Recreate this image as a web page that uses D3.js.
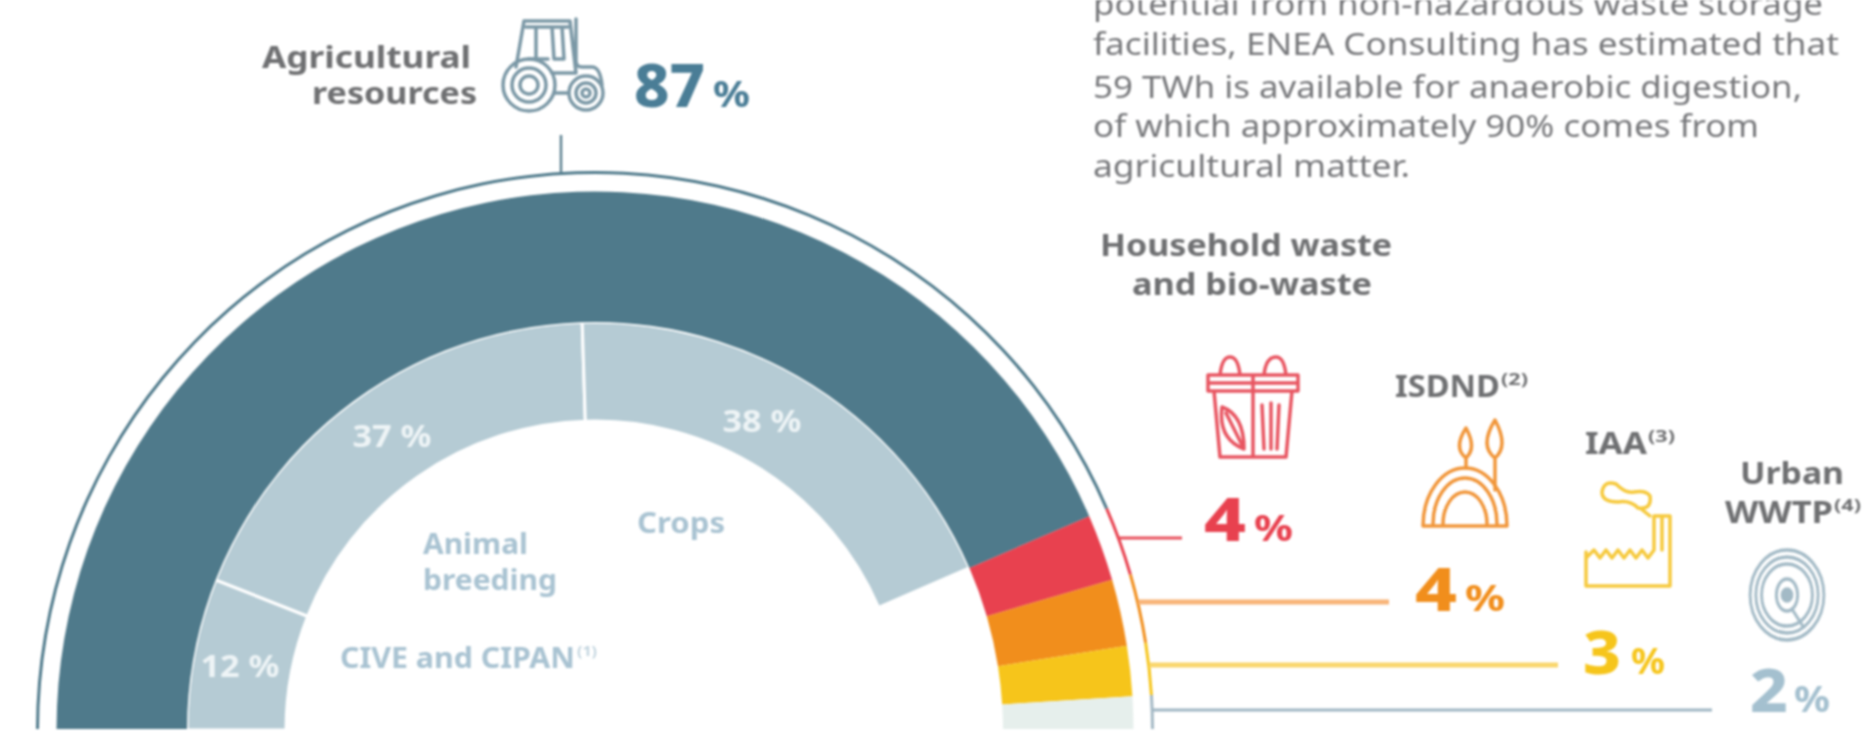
<!DOCTYPE html>
<html><head><meta charset="utf-8">
<script src="https://cdn.jsdelivr.net/npm/d3@7/dist/d3.min.js"></script>
<style>
html,body{margin:0;padding:0;background:#fff;overflow:hidden}
svg{display:block;filter:blur(.9px)}
text{font-family:"Noto Sans","Open Sans",sans-serif}
</style></head><body><div id="chart"></div>
<script>
// ---- data ----
const mainCategories = ["Agricultural resources","Household waste and bio-waste","ISDND","IAA","Urban WWTP"];
const mainValues = [87,4,4,3,2];
const mainColors = ["#4f7a8b","#e8414f","#f18e1c","#f6c51b","#e6efec"];
const ringColors = ["#4f7a8b","#e8414f","#f18e1c","#f6c51b","#a3b8c4"];
const leaderColors = [null,"#e8505c","#f8b377","#f9d66b","#9fb6c3"];
const valueColors = ["#4a7d96","#e8414f","#f18e1c","#f6c51b","#a4c0cf"];
const subCategories = ["CIVE and CIPAN","Animal breeding","Crops"];
const subValues = [12,37,38];
const paragraph = ["potential from non-hazardous waste storage","facilities, ENEA Consulting has estimated that","59 TWh is available for anaerobic digestion,","of which approximately 90% comes from","agricultural matter."];

// ---- layout ----
const W=1869,H=733,cx=595,cy=730;
const svg=d3.select("#chart").append("svg").attr("width",W).attr("height",H);
svg.append("defs").append("clipPath").attr("id","c").append("rect").attr("width",W).attr("height",729);
const angle=d3.scaleLinear().domain([0,100]).range([-Math.PI/2,Math.PI/2]);
function stack(vals){let s=0;return vals.map(v=>{const a=s;s+=v;return{start:a,end:s,value:v}})}
const g=svg.append("g").attr("clip-path","url(#c)").append("g").attr("transform",`translate(${cx},${cy})`);
const arcFor=(r0,r1)=>d3.arc().innerRadius(r0).outerRadius(r1).startAngle(d=>angle(d.start)).endAngle(d=>angle(d.end));

g.selectAll("path.sub").data(stack(subValues)).join("path").attr("class","sub")
 .attr("d",arcFor(309,408)).attr("fill","#b5cbd4").attr("stroke","#fff").attr("stroke-width",3);
g.selectAll("path.main").data(stack(mainValues)).join("path").attr("class","main")
 .attr("d",arcFor(408,538.5)).attr("fill",(d,i)=>mainColors[i]);
g.selectAll("path.ring").data(stack(mainValues)).join("path").attr("class","ring")
 .attr("d",arcFor(556,559)).attr("fill",(d,i)=>ringColors[i]);

// leaders
const ringX=y=>cx+Math.sqrt(558*558-(y-cy)*(y-cy));
svg.append("line").attr("x1",561).attr("x2",561).attr("y1",135).attr("y2",172).attr("stroke","#5f8392").attr("stroke-width",2.5);
[[538,1182,3],[602,1389,5],[665,1558,5],[710,1712,3]].forEach((l,i)=>{
 svg.append("line").attr("x1",ringX(l[0])).attr("x2",l[1]).attr("y1",l[0]).attr("y2",l[0])
  .attr("stroke",leaderColors[i+1]).attr("stroke-width",l[2]);
});

// text helper
function T(x,y,s,o={}){
 const t=svg.append("text").attr("x",x).attr("y",y).text(s)
  .attr("font-size",o.size||30).attr("font-weight",o.w||400).attr("fill",o.fill||"#6f7072")
  .attr("text-anchor",o.a||"start");
 if(o.len)t.attr("textLength",o.len).attr("lengthAdjust","spacingAndGlyphs");
 return t;
}
function Sup(x,y,s,fill){return T(x,y,s,{size:16,w:700,fill:fill||"#6f7072",len:27})}

// paragraph
const paraY=[15,55,98,137,177],paraLen=[730,746,709,666,317];
paragraph.forEach((p,i)=>T(1093,paraY[i],p,{size:31,fill:"#77787b",len:paraLen[i]}));

// category labels
const B={w:700,size:31,fill:"#6f7072"};
T(471,68,"Agricultural",{...B,a:"end",len:209});
T(477,104,"resources",{...B,a:"end",len:165});
T(1100,256,"Household waste",{...B,len:292});
T(1132,295,"and bio-waste",{...B,len:240});
T(1395,397,mainCategories[2],{...B,len:105}); Sup(1501,385,"(2)");
T(1585,454,mainCategories[3],{...B,len:62}); Sup(1648,442,"(3)");
T(1792,484,"Urban",{...B,a:"middle",len:104});
T(1725,523,"WWTP",{...B,len:108}); Sup(1834,511,"(4)");

// big values
const bigX=[[634,713,71,37],[1204,1254,42,39],[1415,1465,42,40],[1583,1631,38,34],[1750,1794,38,36]];
const bigY=[107,541,611,674,712];
mainValues.forEach((v,i)=>{
 T(bigX[i][0],bigY[i],String(v),{size:60,w:800,fill:valueColors[i],len:bigX[i][2]});
 T(bigX[i][1],bigY[i],"%",{size:36,w:700,fill:valueColors[i],len:bigX[i][3]});
});

// sub labels
const SL={w:700,size:28,fill:"#a9c3d2"};
T(340,668,subCategories[0],{...SL,len:235}); T(577,656,"(1)",{size:14,w:700,fill:"#c3d5df",len:20});
T(423,554,"Animal",{...SL,len:105});
T(423,590,"breeding",{...SL,len:134});
T(681,533,subCategories[2],{...SL,a:"middle",len:88});
const subPos=[[240,677],[392,447],[762,432]];
subValues.forEach((v,i)=>T(subPos[i][0],subPos[i][1],v+" %",{size:30,w:700,fill:"#eef4f6",a:"middle",len:79}));

// ---- icons ----
function icon(x,y,color,sw=3.5){return svg.append("g").attr("transform",`translate(${x},${y})`)
 .attr("fill","none").attr("stroke",color).attr("stroke-width",sw).attr("stroke-linejoin","round").attr("stroke-linecap","round")}
// tractor
let k=icon(502,17,"#7b98a6");
k.append("path").attr("d","M14 50 L22 4 H68 L74 56 H50 M24 10 H66 M34 10 V42 M50 10 L52 42 H62 L60 10 M26 42 H46 M74 2 V44 Q74 50 80 50 H90 Q98 50 100 68");
[[27,68,26],[27,68,17],[27,68,9],[84,76,17],[84,76,10],[84,76,4]].forEach(c=>k.append("circle").attr("cx",c[0]).attr("cy",c[1]).attr("r",c[2]));
k.append("path").attr("d","M53 76 H66");
// bin
k=icon(1206,355,"#e85561");
k.append("path").attr("d","M2 20 H92 V36 H2 Z M8 36 L14 102 H80 L86 36 M47 20 V102 M14 20 Q16 2 24 2 Q32 2 34 20 M58 20 Q60 2 70 2 Q78 2 80 20 M2 28 H92");
k.append("path").attr("d","M16 52 Q38 60 38 94 Q12 84 16 52 Z M20 58 L36 90 M56 50 L58 94 M65 48 V94 M73 50 L71 94");
// dome
k=icon(1421,428,"#f1963a");
k.append("path").attr("d","M2 98 A42 58 0 0 1 86 98 Z M12 96 A32 46 0 0 1 76 96 M22 96 A22 32 0 0 1 66 96");
k.append("path").attr("d","M45 40 V30 M45 30 Q32 20 45 0 Q56 20 45 30 Z M74 62 V30 M74 30 Q58 18 74 -8 Q88 18 74 30 Z");
// factory
k=icon(1584,480,"#f6c93c");
k.append("path").attr("d","M2 72 V106 H86 V36 H70 V70 M78 38 V70 M70 70 L64 78 L58 70 L52 78 L46 70 L40 78 L34 70 L28 78 L22 70 L16 78 L10 70 L2 78");
k.append("path").attr("d","M32 4 Q20 0 18 12 Q18 22 34 22 Q46 20 54 28 Q68 30 66 16 Q62 10 50 12 Q42 14 32 4 Z M56 28 L66 36");
// disc (taller than wide, as in the reference)
k=icon(1787,595,"#a3bac6").attr("transform","translate(1787,595) scale(.82,1)");
[45,38,31].forEach(r=>k.append("circle").attr("r",r));
k.append("ellipse").attr("rx",13).attr("ry",16);
k.append("circle").attr("r",6).attr("fill","#a3bac6");
k.append("path").attr("d","M6 14 L20 32");
</script></body></html>
